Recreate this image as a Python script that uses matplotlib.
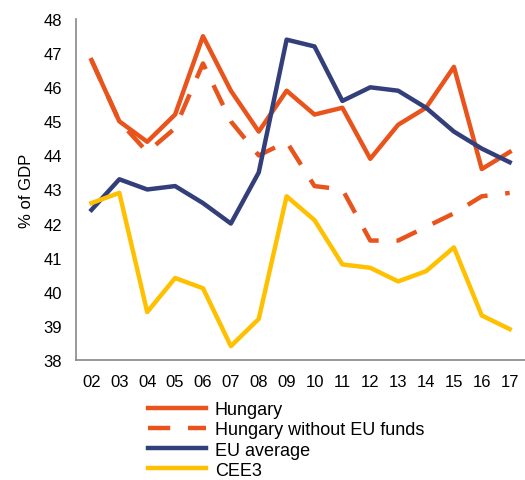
import numpy as np
import matplotlib
matplotlib.use("Agg")
import matplotlib.pyplot as plt

# ======================= DONNEES =======================
YEARS      = ["02", "03", "04", "05", "06", "07", "08", "09",
              "10", "11", "12", "13", "14", "15", "16", "17"]
HUNGARY    = [46.8, 45.0, 44.4, 45.2, 47.5, 45.9, 44.7, 45.9,
              45.2, 45.4, 43.9, 44.9, 45.4, 46.6, 43.6, 44.1]
HUNG_NO_EU = [46.8, 45.0, 44.1, 44.8, 46.7, 45.0, 44.0, 44.4,
              43.1, 43.0, 41.5, 41.5, 41.9, 42.3, 42.8, 42.9]
EU_AVG     = [42.4, 43.3, 43.0, 43.1, 42.6, 42.0, 43.5, 47.4,
              47.2, 45.6, 46.0, 45.9, 45.4, 44.7, 44.2, 43.8]
CEE3       = [42.6, 42.9, 39.4, 40.4, 40.1, 38.4, 39.2, 42.8,
              42.1, 40.8, 40.7, 40.3, 40.6, 41.3, 39.3, 38.9]

ORANGE = "#E8541C"
NAVY   = "#333F7A"
YELLOW = "#FFC000"
# ======================================================

plt.rcParams["font.family"] = ["Liberation Sans", "DejaVu Sans"]

fig = plt.figure(figsize=(5.25, 4.81), dpi=100)
ax = fig.add_axes([0.145, 0.250, 0.855, 0.708])

x = np.arange(len(YEARS))
lw = 3.2
ax.plot(x, HUNGARY, color=ORANGE, lw=lw, label="Hungary")
ax.plot(x, HUNG_NO_EU, color=ORANGE, lw=lw, dashes=(5, 4), label="Hungary without EU funds")
ax.plot(x, EU_AVG, color=NAVY, lw=lw, label="EU average")
ax.plot(x, CEE3, color=YELLOW, lw=lw, label="CEE3")

ax.set_xlim(-0.55, 15.55)
ax.set_ylim(38, 48)
ax.set_yticks(np.arange(38, 49, 1))
ax.set_xticks(x)
ax.set_xticklabels(YEARS)
ax.tick_params(length=0, labelsize=12, pad=10)
ax.set_ylabel("% of GDP", fontsize=12, labelpad=7)

for s in ("top", "right"):
    ax.spines[s].set_visible(False)
for s in ("left", "bottom"):
    ax.spines[s].set_color("#888888")
    ax.spines[s].set_linewidth(1.2)

fig.legend(loc="upper left", bbox_to_anchor=(0.265, 0.183), frameon=False,
           fontsize=13, handlelength=3.2, handletextpad=0.5, labelspacing=0.18,
           borderpad=0)

plt.savefig("out.png", dpi=100)
plt.close()
